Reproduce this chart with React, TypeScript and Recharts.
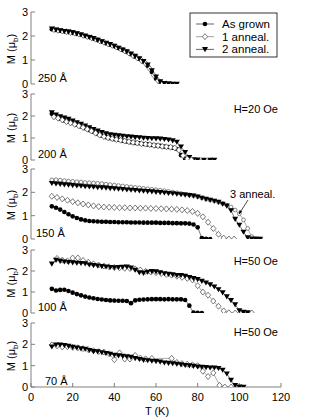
import { LineChart, Line, XAxis, YAxis } from "recharts";

const FONT = "'Liberation Sans', Arial, Helvetica, sans-serif";
const FRAME = "#808080";

const xTicks = [0, 20, 40, 60, 80, 100, 120];
const yTicks = [0, 1, 2, 3];

// 250 Å
const p1GrownT = [10, 12, 14, 16, 18, 20, 22, 24, 26, 28, 30, 32, 34, 36, 38, 40, 42, 44, 46, 48, 50, 52, 54, 56, 58, 60, 62, 64, 66];
const p1GrownM = [2.28, 2.25, 2.22, 2.2, 2.17, 2.14, 2.1, 2.06, 2.01, 1.96, 1.9, 1.84, 1.77, 1.7, 1.64, 1.58, 1.5, 1.42, 1.34, 1.24, 1.14, 1.04, 0.93, 0.76, 0.5, 0.22, 0.08, 0.02, 0.01];
const p1A1T = [11, 13, 15, 17, 19, 21, 23, 25, 27, 29, 31, 33, 35, 37, 39, 41, 43, 45, 47, 49, 51, 53, 55, 57, 59, 61, 63, 65, 67];
const p1A1M = [2.27, 2.24, 2.21, 2.18, 2.15, 2.12, 2.08, 2.03, 1.98, 1.93, 1.87, 1.8, 1.74, 1.67, 1.61, 1.54, 1.46, 1.38, 1.29, 1.19, 1.09, 0.98, 0.86, 0.64, 0.36, 0.14, 0.02, 0.01, 0];
const p1A2T = [10, 12, 14, 16, 18, 20, 22, 24, 26, 28, 30, 32, 34, 36, 38, 40, 42, 44, 46, 48, 50, 52, 54, 56, 58, 60, 62, 64, 66, 68, 70];
const p1A2M = [2.3, 2.26, 2.23, 2.2, 2.17, 2.14, 2.1, 2.05, 2.0, 1.95, 1.9, 1.83, 1.77, 1.71, 1.65, 1.58, 1.5, 1.43, 1.35, 1.26, 1.16, 1.06, 0.95, 0.8, 0.56, 0.3, 0.1, 0.03, 0.01, 0, 0];

// 200 Å, H=20 Oe
const p2GrownT = [10, 12, 14, 16, 18, 20, 22, 24, 26, 28, 30, 32, 34, 36, 38, 40, 42, 44, 46, 48, 50, 52, 54, 56, 58, 60, 62, 64, 66, 68, 70, 72, 74, 76];
const p2GrownM = [2.1, 1.98, 1.88, 1.8, 1.74, 1.68, 1.6, 1.52, 1.44, 1.36, 1.28, 1.18, 1.1, 1.04, 0.99, 0.95, 0.92, 0.88, 0.84, 0.81, 0.78, 0.76, 0.73, 0.71, 0.68, 0.66, 0.64, 0.61, 0.59, 0.56, 0.5, 0.22, 0.06, 0.01];
const p2A1T = [11, 13, 15, 17, 19, 21, 23, 25, 27, 29, 31, 33, 35, 37, 39, 41, 43, 45, 47, 49, 51, 53, 55, 57, 59, 61, 63, 65, 67, 69, 71, 73, 75, 77];
const p2A1M = [1.96, 1.9, 1.82, 1.74, 1.68, 1.62, 1.55, 1.48, 1.4, 1.32, 1.22, 1.13, 1.06, 1.01, 0.97, 0.93, 0.9, 0.86, 0.83, 0.8, 0.77, 0.74, 0.72, 0.7, 0.67, 0.65, 0.62, 0.6, 0.58, 0.55, 0.45, 0.2, 0.05, 0.01];
const p2A2T = [10, 12, 14, 16, 18, 20, 22, 24, 26, 28, 30, 32, 34, 36, 38, 40, 42, 44, 46, 48, 50, 52, 54, 56, 58, 60, 62, 64, 66, 68, 70, 72, 74, 76, 78, 80, 83, 86, 88];
const p2A2M = [2.16, 2.05, 1.97, 1.92, 1.86, 1.78, 1.7, 1.63, 1.56, 1.48, 1.4, 1.33, 1.26, 1.2, 1.16, 1.13, 1.11, 1.09, 1.07, 1.05, 1.03, 1.02, 1.0, 0.99, 0.98, 0.97, 0.96, 0.94, 0.92, 0.88, 0.82, 0.6, 0.35, 0.12, 0.02, 0.01, 0, 0, 0];

// 150 Å
const p3GrownT = [10, 12, 14, 16, 18, 20, 22, 24, 26, 28, 30, 32, 34, 36, 38, 40, 42, 44, 46, 48, 50, 52, 54, 56, 58, 60, 62, 64, 66, 68, 70, 72, 74, 76, 78, 80, 82, 84, 86];
const p3GrownM = [1.4, 1.34, 1.26, 1.16, 1.06, 0.97, 0.9, 0.84, 0.8, 0.77, 0.76, 0.75, 0.74, 0.74, 0.73, 0.73, 0.72, 0.72, 0.72, 0.71, 0.71, 0.71, 0.7, 0.7, 0.7, 0.7, 0.69, 0.69, 0.69, 0.68, 0.68, 0.67, 0.67, 0.66, 0.62, 0.5, 0.04, 0.01, 0];
const p3A1T = [10, 12.5, 15, 17.5, 20, 22.5, 25, 27.5, 30, 32.5, 35, 37.5, 40, 42.5, 45, 47.5, 50, 52.5, 55, 57.5, 60, 62.5, 65, 67.5, 70, 72.5, 75, 77.5, 80, 82.5, 85, 87.5, 90, 92.5, 95, 97.5];
const p3A1M = [1.83, 1.78, 1.72, 1.66, 1.6, 1.55, 1.5, 1.46, 1.42, 1.39, 1.37, 1.36, 1.35, 1.34, 1.34, 1.33, 1.33, 1.32, 1.32, 1.31, 1.31, 1.3, 1.29, 1.28, 1.27, 1.25, 1.22, 1.18, 1.1, 0.95, 0.72, 0.45, 0.2, 0.04, 0, 0];
const p3A2T = [10, 12, 14, 16, 18, 20, 22, 24, 26, 28, 30, 32, 34, 36, 38, 40, 42, 44, 46, 48, 50, 52, 54, 56, 58, 60, 62, 64, 66, 68, 70, 72, 74, 76, 78, 80, 82, 84, 86, 88, 90, 92, 94, 96, 98, 100, 102, 104, 106, 108, 110];
const p3A2M = [2.39, 2.37, 2.35, 2.33, 2.32, 2.3, 2.28, 2.27, 2.25, 2.24, 2.23, 2.21, 2.2, 2.19, 2.17, 2.16, 2.14, 2.13, 2.11, 2.1, 2.09, 2.07, 2.06, 2.04, 2.03, 2.01, 2.0, 1.98, 1.96, 1.95, 1.93, 1.91, 1.89, 1.87, 1.85, 1.81, 1.76, 1.71, 1.67, 1.63, 1.58, 1.5, 1.42, 1.22, 0.85, 0.6, 0.3, 0.06, 0.01, 0, 0];
const p3A3T = [10, 12, 14, 16, 18, 20, 22, 24, 26, 28, 30, 32, 34, 36, 38, 40, 42, 44, 46, 48, 50, 52, 54, 56, 58, 60, 62, 64, 66, 68, 70, 72, 74, 76, 78, 80, 82, 84, 86, 88, 90, 92, 94, 96, 98, 100, 102, 104, 106, 108, 110];
const p3A3M = [2.53, 2.54, 2.52, 2.5, 2.48, 2.47, 2.45, 2.44, 2.42, 2.41, 2.4, 2.39, 2.37, 2.35, 2.33, 2.31, 2.29, 2.27, 2.25, 2.23, 2.21, 2.19, 2.17, 2.15, 2.13, 2.11, 2.09, 2.07, 2.04, 2.01, 1.98, 1.95, 1.92, 1.89, 1.86, 1.81, 1.76, 1.71, 1.67, 1.63, 1.58, 1.52, 1.45, 1.37, 1.24, 1.08, 0.82, 0.45, 0.1, 0.02, 0];

// 100 Å, H=50 Oe
const p4GrownT = [10, 12, 14, 16, 18, 20, 22, 24, 26, 28, 30, 32, 34, 36, 38, 40, 42, 44, 46, 48, 50, 52, 54, 56, 58, 60, 62, 64, 66, 68, 70, 72, 74, 76, 78, 80, 82];
const p4GrownM = [1.15, 1.07, 1.1, 1.11, 1.05, 0.97, 0.9, 0.84, 0.78, 0.74, 0.7, 0.67, 0.64, 0.62, 0.6, 0.59, 0.58, 0.58, 0.57, 0.47, 0.6, 0.63, 0.64, 0.65, 0.66, 0.66, 0.66, 0.65, 0.66, 0.65, 0.65, 0.65, 0.62, 0.35, 0.02, 0.01, 0];
const p4A1T = [12.5, 15, 17.5, 20, 22.5, 25, 27.5, 30, 32.5, 35, 37.5, 40, 42.5, 45, 47.5, 50, 52.5, 55, 57.5, 60, 62.5, 65, 67.5, 70, 72.5, 75, 77.5, 80, 82.5, 85, 87.5, 90, 92.5, 95, 98, 106];
const p4A1M = [2.6, 2.52, 2.48, 2.62, 2.62, 2.5, 2.42, 2.34, 2.28, 2.24, 2.2, 2.17, 2.15, 2.13, 2.12, 2.1, 2.05, 1.98, 1.95, 1.92, 1.88, 1.84, 1.8, 1.75, 1.7, 1.65, 1.58, 1.3, 1.0, 0.85, 0.57, 0.32, 0.1, 0.01, 0, 0];
const p4A2T = [10, 12, 14, 16, 18, 20, 22, 24, 26, 28, 30, 32, 34, 36, 38, 40, 42, 44, 46, 48, 50, 52, 54, 56, 58, 60, 62, 64, 66, 68, 70, 72, 74, 76, 78, 80, 82, 84, 86, 88, 90, 92, 94, 96, 98, 100, 102, 104];
const p4A2M = [2.34, 2.52, 2.47, 2.44, 2.42, 2.4, 2.38, 2.37, 2.35, 2.3, 2.27, 2.25, 2.22, 2.2, 2.18, 2.17, 2.18, 2.19, 2.2, 2.15, 2.05, 1.93, 1.9, 1.95, 1.98, 1.97, 1.93, 1.88, 1.85, 1.83, 1.8, 1.8, 1.76, 1.7, 1.65, 1.6, 1.52, 1.44, 1.35, 1.25, 1.12, 0.97, 0.78, 0.6, 0.4, 0.12, 0.04, 0.02];

// 70 Å, H=50 Oe
const p5A1T = [10, 12.5, 15, 17.5, 20, 22.5, 25, 27.5, 30, 32.5, 35, 37.5, 40, 42.5, 45, 47.5, 50, 52.5, 55, 58, 67.5, 70, 72.5, 75, 77.5, 80, 82.5, 85, 87.5, 90.5, 93, 96];
const p5A1M = [1.97, 1.93, 1.88, 1.89, 1.86, 1.84, 1.8, 1.75, 1.7, 1.66, 1.64, 1.56, 1.28, 1.6, 1.31, 1.31, 1.48, 1.36, 1.32, 1.34, 1.34, 1.15, 1.1, 1.07, 1.04, 1.0, 0.74, 0.49, 0.66, 0.08, 0, 0];
const p5A2T = [10, 12, 14, 16, 18, 20, 22, 24, 26, 28, 30, 32, 34, 36, 38, 40, 42, 44, 46, 48, 50, 52, 54, 56, 58, 60, 62, 64, 66, 68, 70, 72, 74, 76, 78, 80, 82, 84, 86, 88, 90, 92, 94, 96, 98, 100, 102];
const p5A2M = [1.89, 1.98, 1.98, 1.96, 1.92, 1.87, 1.84, 1.8, 1.78, 1.72, 1.67, 1.66, 1.62, 1.58, 1.55, 1.5, 1.47, 1.45, 1.43, 1.4, 1.34, 1.3, 1.26, 1.24, 1.22, 1.2, 1.18, 1.14, 1.12, 1.1, 1.08, 1.05, 1.02, 1.0, 0.98, 0.95, 0.94, 0.92, 0.9, 0.9, 0.88, 0.8, 0.62, 0.32, 0.08, 0.01, 0];

type Shape = "circle" | "diamond" | "tri" | "ring";

const zip = (t: number[], m: number[]) => t.map((x, i) => ({ t: x, m: m[i] }));

function Marker({ shape, cx, cy }: { shape: Shape; cx: number; cy: number }) {
  if (shape === "circle") return <circle cx={cx} cy={cy} r={2.3} fill="#000" />;
  if (shape === "ring")
    return <circle cx={cx} cy={cy} r={1.9} fill="#fff" stroke="#555" strokeWidth={0.7} />;
  if (shape === "diamond")
    return (
      <path
        d={`M${cx},${cy - 3}L${cx + 2.6},${cy}L${cx},${cy + 3}L${cx - 2.6},${cy}Z`}
        fill="#fff"
        stroke="#444"
        strokeWidth={0.7}
      />
    );
  return <path d={`M${cx - 3},${cy - 2.3}L${cx + 3},${cy - 2.3}L${cx},${cy + 2.8}Z`} fill="#000" />;
}

const dotFor = (shape: Shape) => (p: any) =>
  p.cx == null ? <g key={`n${p.index}`} /> : <Marker key={`${shape}${p.index}`} shape={shape} cx={p.cx} cy={p.cy} />;

const lineColor: Record<Shape, string> = { circle: "#222", diamond: "#777", tri: "#222", ring: "#777" };

interface SeriesDef {
  shape: Shape;
  data: { t: number; m: number }[];
}

const panels: { top: number; h: number; series: SeriesDef[] }[] = [
  {
    top: 12,
    h: 72,
    series: [
      { shape: "circle", data: zip(p1GrownT, p1GrownM) },
      { shape: "diamond", data: zip(p1A1T, p1A1M) },
      { shape: "tri", data: zip(p1A2T, p1A2M) },
    ],
  },
  {
    top: 94,
    h: 66,
    series: [
      { shape: "tri", data: zip(p2A2T, p2A2M) },
      { shape: "circle", data: zip(p2GrownT, p2GrownM) },
      { shape: "diamond", data: zip(p2A1T, p2A1M) },
    ],
  },
  {
    top: 169,
    h: 70,
    series: [
      { shape: "circle", data: zip(p3GrownT, p3GrownM) },
      { shape: "diamond", data: zip(p3A1T, p3A1M) },
      { shape: "ring", data: zip(p3A3T, p3A3M) },
      { shape: "tri", data: zip(p3A2T, p3A2M) },
    ],
  },
  {
    top: 250,
    h: 63,
    series: [
      { shape: "circle", data: zip(p4GrownT, p4GrownM) },
      { shape: "diamond", data: zip(p4A1T, p4A1M) },
      { shape: "tri", data: zip(p4A2T, p4A2M) },
    ],
  },
  {
    top: 323,
    h: 64,
    series: [
      { shape: "diamond", data: zip(p5A1T, p5A1M) },
      { shape: "tri", data: zip(p5A2T, p5A2M) },
    ],
  },
];

function Panel({ top, h, series, last }: { top: number; h: number; series: SeriesDef[]; last: boolean }) {
  const mt = 6;
  const mb = 6;
  const axisH = last ? 18 : 0;
  const tickFont = { fontSize: 11, fill: "#000", fontFamily: FONT };
  return (
    <div style={{ position: "absolute", left: 0, top: top - mt }}>
      <LineChart width={314} height={h + mt + mb + axisH} margin={{ top: mt, right: 33, bottom: mb, left: 0 }}>
        <XAxis
          xAxisId="b"
          type="number"
          dataKey="t"
          domain={[0, 120]}
          ticks={xTicks}
          interval={0}
          height={axisH}
          tickSize={-4}
          tickMargin={10}
          tick={last ? tickFont : false}
          stroke={FRAME}
          allowDataOverflow
        />
        <XAxis
          xAxisId="t"
          orientation="top"
          type="number"
          dataKey="t"
          domain={[0, 120]}
          ticks={xTicks}
          interval={0}
          height={0}
          tickSize={-4}
          tick={false}
          stroke={FRAME}
        />
        <YAxis
          yAxisId="l"
          type="number"
          domain={[0, 3]}
          ticks={yTicks}
          interval={0}
          width={31}
          tickSize={-4}
          tickMargin={7}
          tick={tickFont}
          stroke={FRAME}
          allowDataOverflow
        />
        <YAxis
          yAxisId="r"
          orientation="right"
          type="number"
          domain={[0, 3]}
          ticks={yTicks}
          interval={0}
          width={0}
          tickSize={-4}
          tick={false}
          stroke={FRAME}
        />
        {series.map((s, i) => (
          <Line
            key={i}
            xAxisId="b"
            yAxisId="l"
            data={s.data}
            dataKey="m"
            type="linear"
            stroke={lineColor[s.shape]}
            strokeWidth={0.6}
            dot={dotFor(s.shape)}
            activeDot={false}
            isAnimationActive={false}
          />
        ))}
      </LineChart>
    </div>
  );
}

const legendItems: { label: string; shape: Shape }[] = [
  { label: "As grown", shape: "circle" },
  { label: "1 anneal.", shape: "diamond" },
  { label: "2 anneal.", shape: "tri" },
];

const thickness = ["250 Å", "200 Å", "150 Å", "100 Å", "70 Å"];

export default function App() {
  const txt = { fontFamily: FONT, fontSize: 11, fill: "#000" } as const;
  return (
    <div style={{ position: "fixed", left: 0, top: 0, width: 314, height: 420, background: "#fff" }}>
      {panels.map((p, i) => (
        <Panel key={i} top={p.top} h={p.h} series={p.series} last={i === panels.length - 1} />
      ))}
      <svg width={314} height={420} style={{ position: "absolute", left: 0, top: 0, pointerEvents: "none" }}>
        <defs>
          <marker id="ah" viewBox="0 0 10 10" refX="9" refY="5" markerWidth="6" markerHeight="6" orient="auto">
            <path d="M0,1L10,5L0,9Z" fill="#000" />
          </marker>
        </defs>
        {panels.map((p, i) => (
          <text
            key={`yl${i}`}
            {...txt}
            textAnchor="middle"
            transform={`translate(15, ${p.top + p.h / 2 + 1}) rotate(-90)`}
          >
            M (μ<tspan fontSize={8} dy={3}>b</tspan>
            <tspan dy={-3}>)</tspan>
          </text>
        ))}
        {panels.map((p, i) => (
          <text key={`th${i}`} {...txt} x={i === 4 ? 45 : i === 2 ? 36 : 38} y={p.top + p.h - 2}>
            {thickness[i]}
          </text>
        ))}
        <text {...txt} x={278} y={113} textAnchor="end">H=20 Oe</text>
        <text {...txt} x={278} y={265} textAnchor="end">H=50 Oe</text>
        <text {...txt} x={278} y={336} textAnchor="end">H=50 Oe</text>
        <text {...txt} x={230} y={198}>3 anneal.</text>
        <line x1={248} y1={200} x2={239} y2={214} stroke="#000" strokeWidth={0.7} markerEnd="url(#ah)" />
        <text {...txt} x={157} y={415} textAnchor="middle">T (K)</text>
        <rect x={190} y={13} width={87} height={44} fill="#fff" stroke="#000" strokeWidth={0.8} />
        {legendItems.map((it, i) => {
          const cy = 24 + i * 12.7;
          return (
            <g key={it.label}>
              <line x1={196} y1={cy} x2={214} y2={cy} stroke={lineColor[it.shape]} strokeWidth={0.7} />
              <Marker shape={it.shape} cx={205} cy={cy} />
              <text {...txt} fontSize={11.5} x={222} y={cy + 4}>
                {it.label}
              </text>
            </g>
          );
        })}
      </svg>
    </div>
  );
}
